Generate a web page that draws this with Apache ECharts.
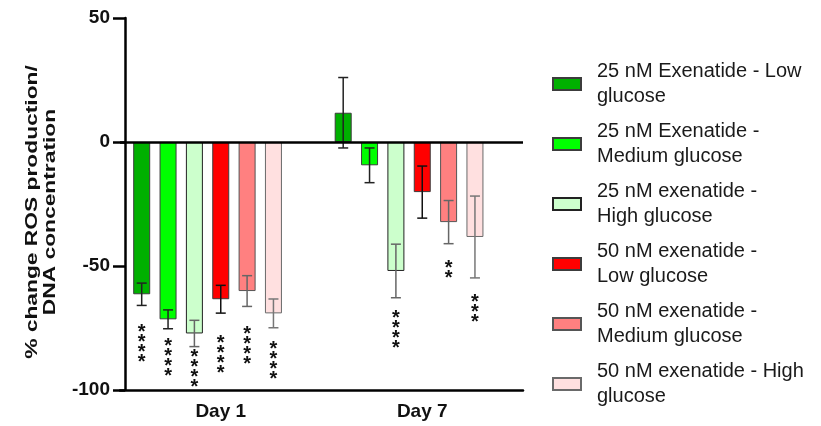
<!DOCTYPE html>
<html>
<head>
<meta charset="utf-8">
<script src="https://cdn.jsdelivr.net/npm/echarts@6/dist/echarts.min.js"></script>
<style>
  html, body { margin: 0; padding: 0; background: #fff; }
  #chart { width: 821px; height: 426px; }
</style>
</head>
<body>
<div id="chart"></div>
<script>
// ---- data ----
const categories = ['Day 1', 'Day 7'];
const seriesNames = [
  '25 nM Exenatide - Low\nglucose',
  '25 nM Exenatide -\nMedium glucose',
  '25 nM exenatide -\nHigh glucose',
  '50 nM exenatide -\nLow glucose',
  '50 nM exenatide -\nMedium glucose',
  '50 nM exenatide - High\nglucose'
];
// mean % change per series: [Day 1, Day 7]
const meanS1 = [-61.4, 11.8];
const meanS2 = [-71.5, -9.4];
const meanS3 = [-77.2, -52.0];
const meanS4 = [-63.4, -20.2];
const meanS5 = [-60.1, -32.3];
const meanS6 = [-69.1, -38.3];
// error (SEM) per series: [Day 1, Day 7]
const errS1 = [4.5, 14.2];
const errS2 = [3.8, 7.0];
const errS3 = [5.3, 10.8];
const errS4 = [5.6, 10.5];
const errS5 = [6.2, 8.7];
const errS6 = [5.8, 16.5];
// significance stars count per series: [Day 1, Day 7]
const starsS1 = [4, 0];
const starsS2 = [4, 0];
const starsS3 = [4, 4];
const starsS4 = [4, 0];
const starsS5 = [4, 2];
const starsS6 = [4, 3];
// value at which the star annotation starts: [Day 1, Day 7]
const starAtS1 = [-74.7, null];
const starAtS2 = [-80.5, null];
const starAtS3 = [-84.8, -69.0];
const starAtS4 = [-79.2, null];
const starAtS5 = [-75.5, -48.9];
const starAtS6 = [-81.5, -62.8];
const yTicks = { min: -100, max: 50, interval: 50 };

const means = [meanS1, meanS2, meanS3, meanS4, meanS5, meanS6];
const errs = [errS1, errS2, errS3, errS4, errS5, errS6];
const stars = [starsS1, starsS2, starsS3, starsS4, starsS5, starsS6];
const starAt = [starAtS1, starAtS2, starAtS3, starAtS4, starAtS5, starAtS6];

// ---- style ----
const colors = ['#00B000', '#00FF00', '#CCFFCC', '#FF0000', '#FF8080', '#FFE0E0'];
const borders = ['#3c3c3c', '#3c3c3c', '#222222', '#3c3c3c', '#555555', '#6a6a6a'];
const errColors = ['#222222', '#222222', '#666666', '#111111', '#666666', '#777777'];
const BAR_W = 17;
const GAP = 0.55;
const NBARS = 7; // 6 visible + 1 empty slot (group sits left of tick, as in original)
const SLOT = BAR_W * (1 + GAP);
const FONT = '"Liberation Sans", Arial, sans-serif';

const chart = echarts.init(document.getElementById('chart'));

const barSeries = seriesNames.map((name, i) => ({
  name: name,
  type: 'bar',
  data: means[i],
  barWidth: BAR_W,
  barGap: (GAP * 100) + '%',
  itemStyle: { color: colors[i], borderColor: borders[i], borderWidth: 1 },
  z: 2
}));
barSeries.push({
  name: '_pad', type: 'bar', data: [null, null], barWidth: BAR_W,
  barGap: (GAP * 100) + '%', silent: true, z: 2
});
barSeries[0].markLine = {
  silent: true, symbol: 'none', label: { show: false },
  lineStyle: { color: '#000', width: 2.5, type: 'solid' },
  data: [{ yAxis: 0 }], z: 5
};

const errData = [];
for (let s = 0; s < 6; s++) {
  for (let c = 0; c < categories.length; c++) {
    errData.push([c, s, means[s][c], errs[s][c], stars[s][c], starAt[s][c] == null ? NaN : starAt[s][c]]);
  }
}

function renderErr(params, api) {
  const c = api.value(0), s = api.value(1), m = api.value(2), e = api.value(3);
  const n = api.value(4), sa = api.value(5);
  const cx = api.coord([c, m])[0] + (s - (NBARS - 1) / 2) * SLOT;
  const yt = api.coord([c, m + e])[1];
  const yb = api.coord([c, m - e])[1];
  const col = errColors[s];
  const ls = { stroke: col, lineWidth: 1.5 };
  const children = [
    { type: 'line', shape: { x1: cx, y1: yt, x2: cx, y2: yb }, style: ls },
    { type: 'line', shape: { x1: cx - 5, y1: yt, x2: cx + 5, y2: yt }, style: ls },
    { type: 'line', shape: { x1: cx - 5, y1: yb, x2: cx + 5, y2: yb }, style: ls }
  ];
  if (n > 0 && !isNaN(sa)) {
    const y0 = api.coord([c, sa])[1];
    for (let k = 0; k < n; k++) {
      children.push({
        type: 'text',
        style: {
          text: '*', x: cx, y: y0 + k * 10 + 5,
          fill: '#111', font: 'bold 20px ' + FONT,
          align: 'center', verticalAlign: 'middle'
        }
      });
    }
  }
  return { type: 'group', children: children };
}

const option = {
  animation: false,
  backgroundColor: '#fff',
  grid: { left: 120, right: 298, top: 18, bottom: 36, containLabel: false },
  legend: {
    data: seriesNames,
    orient: 'vertical',
    left: 552,
    top: 59,
    padding: 0,
    itemWidth: 28,
    itemHeight: 12,
    itemGap: 10,
    icon: 'rect',
    selectedMode: false,
    textStyle: {
      fontFamily: FONT, fontSize: 20, lineHeight: 25, color: '#1a1a1a',
      padding: [0, 0, 0, 11]
    }
  },
  graphic: [{
    type: 'text',
    x: 41, y: 212,
    rotation: Math.PI / 2,
    scaleX: 1.34,
    style: {
      text: '% change ROS production/\nDNA concentration',
      font: 'bold 17px ' + FONT,
      fill: '#111',
      textAlign: 'center',
      textVerticalAlign: 'middle',
      lineHeight: 18
    }
  }],
  xAxis: {
    type: 'category',
    data: categories,
    axisLine: { onZero: false, lineStyle: { color: '#000', width: 2.5 } },
    axisTick: { alignWithLabel: true, length: 8, lineStyle: { color: '#000', width: 2.5 } },
    axisLabel: { fontFamily: FONT, fontWeight: 'bold', fontSize: 19, color: '#111', margin: 12 },
    splitLine: { show: false }
  },
  yAxis: {
    type: 'value',
    min: yTicks.min, max: yTicks.max, interval: yTicks.interval,
    offset: -5,
    axisLine: { show: true, lineStyle: { color: '#000', width: 2.5 } },
    axisTick: { show: true, length: 12, lineStyle: { color: '#000', width: 2.5 } },
    axisLabel: { fontFamily: FONT, fontWeight: 'bold', fontSize: 19, color: '#111', margin: 15 },
    splitLine: { show: false }
  },
  series: barSeries.concat([{
    type: 'custom',
    renderItem: renderErr,
    data: errData,
    encode: { x: 0, y: 2 },
    z: 4,
    silent: true
  }])
};
chart.setOption(option);
</script>
</body>
</html>
